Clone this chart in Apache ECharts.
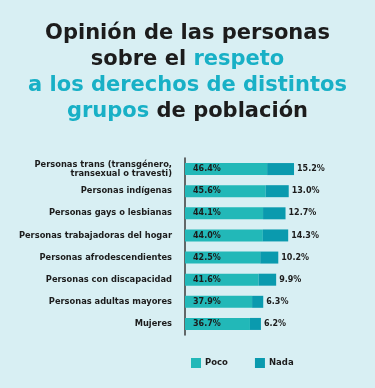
<!DOCTYPE html>
<html>
<head>
<meta charset="utf-8">
<script src="https://cdn.jsdelivr.net/npm/echarts@6/dist/echarts.min.js"></script>
<style>
  html, body { margin: 0; padding: 0; background: #d8eff3; }
  #chart { width: 375px; height: 388px; }
</style>
</head>
<body>
<div id="chart"></div>
<script>
const categories = [
  "Personas trans (transgénero,\ntransexual o travesti)",
  "Personas indígenas",
  "Personas gays o lesbianas",
  "Personas trabajadoras del hogar",
  "Personas afrodescendientes",
  "Personas con discapacidad",
  "Personas adultas mayores",
  "Mujeres",
];
const poco = [46.4, 45.6, 44.1, 44.0, 42.5, 41.6, 37.9, 36.7];
const nada = [15.2, 13.0, 12.7, 14.3, 10.2, 9.9, 6.3, 6.2];

const dark = "#1c1c1c";
const cyan = "#18b0c6";
const font = "DejaVu Sans";
const fmt = (p) => p.value.toFixed(1) + "%";

const chart = echarts.init(document.getElementById("chart"));
chart.setOption({
  backgroundColor: "#d8eff3",
  animation: false,
  title: {
    left: "center",
    top: 16,
    text: "{d|Opinión de las personas}\n{d|sobre el }{c|respeto}\n{c|a los derechos de distintos}\n{c|grupos}{d| de población}",
    textStyle: {
      rich: {
        d: { color: dark, fontFamily: font, fontWeight: "bold", fontSize: 21, lineHeight: 26 },
        c: { color: cyan, fontFamily: font, fontWeight: "bold", fontSize: 21, lineHeight: 26 },
      },
    },
  },
  legend: {
    left: 186,
    top: 353,
    itemWidth: 10,
    itemHeight: 10,
    itemGap: 27,
    icon: "rect",
    textStyle: { color: dark, fontFamily: font, fontWeight: "bold", fontSize: 8.5, padding: [0, 0, 0, -1] },
    data: ["Poco", "Nada"],
  },
  grid: { left: 185, top: 158, width: 177, height: 177 },
  xAxis: { type: "value", min: 0, max: 100, show: false },
  yAxis: {
    type: "category",
    inverse: true,
    data: categories,
    axisLine: { show: true, lineStyle: { color: "#3a3a3a", width: 1.5 } },
    axisTick: { show: false },
    axisLabel: {
      margin: 13,
      color: dark,
      fontFamily: font,
      fontWeight: "bold",
      fontSize: 8.3,
      lineHeight: 9,
      align: "right",
    },
  },
  series: [
    {
      name: "Poco",
      type: "bar",
      stack: "t",
      data: poco,
      barWidth: 12,
      itemStyle: { color: "#22b8b8" },
      label: {
        show: true,
        position: "insideLeft",
        distance: 8,
        formatter: fmt,
        color: dark,
        fontFamily: font,
        fontWeight: "bold",
        fontSize: 8,
      },
    },
    {
      name: "Nada",
      type: "bar",
      stack: "t",
      data: nada,
      barWidth: 12,
      itemStyle: { color: "#0a9aae" },
      label: {
        show: true,
        position: "right",
        distance: 3,
        formatter: fmt,
        color: dark,
        fontFamily: font,
        fontWeight: "bold",
        fontSize: 8,
      },
    },
  ],
});
</script>
</body>
</html>
